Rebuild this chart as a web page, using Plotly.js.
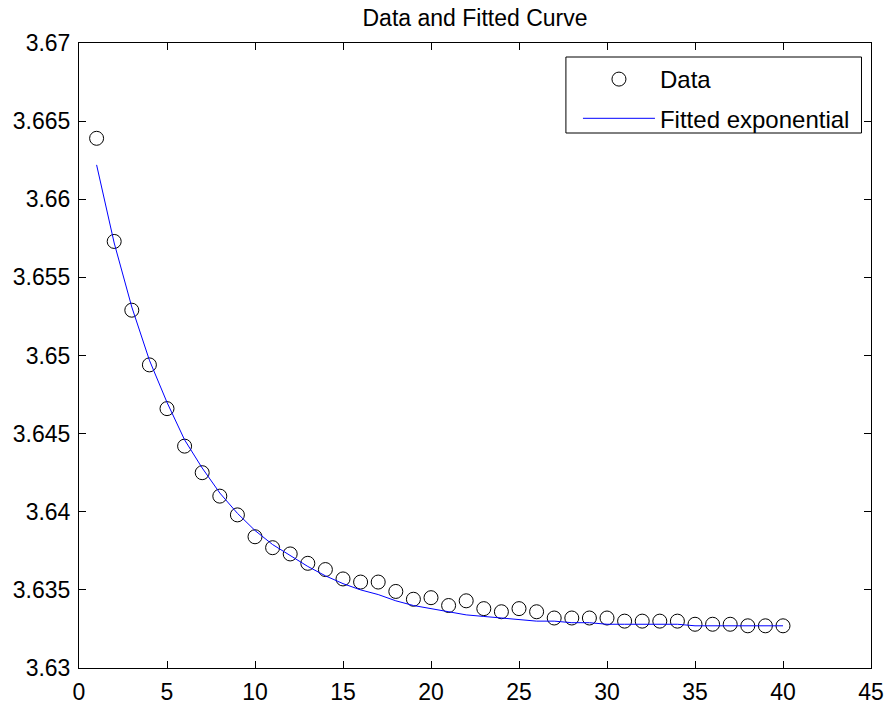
<!DOCTYPE html>
<html>
<head>
<meta charset="utf-8">
<script src="https://cdn.plot.ly/plotly-3.0.1.min.js"></script>
<style>html,body{margin:0;padding:0;background:#fff;}#chart{width:888px;height:704px;}</style>
</head>
<body>
<div id="chart"></div>
<script>
const xData = [1,2,3,4,5,6,7,8,9,10,11,12,13,14,15,16,17,18,19,20,21,22,23,24,25,26,27,28,29,30,31,32,33,34,35,36,37,38,39,40];
const yData = [3.6639,3.6573,3.6529,3.6494,3.6466,3.6442,3.6425,3.6410,3.6398,3.6384,
               3.6377,3.6373,3.6367,3.6363,3.6357,3.6355,3.6355,3.6349,3.6344,3.6345,
               3.6340,3.6343,3.6338,3.6336,3.6338,3.6336,3.6332,3.6332,3.6332,3.6332,
               3.6330,3.6330,3.6330,3.6330,3.6328,3.6328,3.6328,3.6327,3.6327,3.6327];
const xFit = [1,2,3,4,5,6,7,8,9,10,11,12,13,14,15,16,17,18,19,20,21,22,23,24,25,26,27,28,29,30,31,32,33,34,35,36,37,38,39,40];
const yFit = [3.6622,3.6572,3.6531,3.6497,3.6470,3.6446,3.6428,3.6412,3.6399,3.6388,
              3.6379,3.6372,3.6365,3.6359,3.6354,3.6350,3.6347,3.6343,3.6340,3.6338,
              3.6336,3.6334,3.6333,3.6332,3.6331,3.6330,3.6330,3.6329,3.6329,3.6328,
              3.6328,3.6328,3.6328,3.6328,3.6327,3.6327,3.6327,3.6327,3.6327,3.6327];
const xTicks = [0,5,10,15,20,25,30,35,40,45];
const yTicks = [3.63,3.635,3.64,3.645,3.65,3.655,3.66,3.665,3.67];
const yTickText = ['3.63','3.635','3.64','3.645','3.65','3.655','3.66','3.665','3.67'];

const font = '"Liberation Sans", Arial, sans-serif';
const traces = [
  {x: xData, y: yData, type: 'scatter', mode: 'markers', name: 'Data', legendgroup: 'a',
   marker: {symbol: 'circle-open', size: 14, color: '#000', line: {width: 1, color: '#000'}}},
  {x: xFit, y: yFit, type: 'scatter', mode: 'lines', name: 'Fitted exponential', legendgroup: 'b',
   line: {color: '#0000ff', width: 1}}
];
const axisCommon = {
  showline: true, linecolor: '#000', linewidth: 1, mirror: 'ticks',
  ticks: 'inside', ticklen: 7, tickwidth: 1, tickcolor: '#000',
  showgrid: false, zeroline: false,
  tickfont: {family: font, size: 23, color: '#000'}
};
const layout = {
  width: 888, height: 704,
  margin: {l: 79, r: 17, t: 43, b: 36},
  paper_bgcolor: '#fff', plot_bgcolor: '#fff',
  title: {text: 'Data and Fitted Curve', font: {family: font, size: 23, color: '#000'},
          x: 0.5, xref: 'paper', y: 1 - 18/704, yref: 'container', yanchor: 'middle'},
  xaxis: Object.assign({}, axisCommon, {range: [0, 45], tickvals: xTicks, ticktext: xTicks.map(String), ticklabelstandoff: 3}),
  yaxis: Object.assign({}, axisCommon, {range: [3.63, 3.67], tickvals: yTicks, ticktext: yTickText, ticklabelstandoff: 3}),
  showlegend: true,
  legend: {x: 0.6300, xanchor: 'left', y: 0.9776, yanchor: 'top',
           borderwidth: 0, bgcolor: 'rgba(0,0,0,0)',
           font: {family: font, size: 24, color: '#000'}, itemwidth: 72,
           traceorder: 'grouped', tracegroupgap: 5},
  shapes: [{type: 'rect', xref: 'paper', yref: 'paper', layer: 'above',
            x0: 0.6148, x1: 0.988, y0: 0.856, y1: 0.9776,
            line: {color: '#000', width: 1}, fillcolor: 'rgba(0,0,0,0)'}]
};
Plotly.newPlot('chart', traces, layout, {displayModeBar: false, staticPlot: true});
</script>
</body>
</html>
